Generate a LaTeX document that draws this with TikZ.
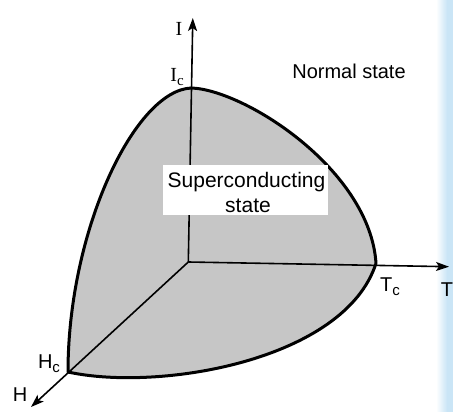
\documentclass[tikz,border=0pt]{standalone}
\usepackage{fontspec}
\setmainfont{Liberation Sans}
\newfontfamily\serifI{Liberation Serif}
\usetikzlibrary{arrows.meta}
\definecolor{fillgray}{RGB}{198,198,198}
\definecolor{blueband}{RGB}{202,229,246}
\tikzset{
  axis/.style={line width=1.6pt,-{Stealth[length=13pt,width=9pt,inset=3pt]}},
  bound/.style={line width=3pt,line join=round},
  lbl/.style={inner sep=0pt,font=\fontsize{20}{22}\selectfont}
}
\newcommand{\subc}{\raisebox{-0.4ex}{\fontsize{15}{15}\selectfont c}}
\begin{document}
\begin{tikzpicture}[x=1pt,y=-1pt]
\useasboundingbox (0,0) rectangle (453,412);
\fill[white] (0,0) rectangle (453,412);
\shade[left color=white,right color=blueband] (436,0) rectangle (447,412);
\fill[blueband] (447,0) rectangle (453,412);
% key points
\coordinate (O) at (188.3,262);
\coordinate (Ic) at (191.5,88);
\coordinate (Tc) at (376,263.3);
\coordinate (Hc) at (68,372);
\coordinate (Itip) at (192.8,18);
\coordinate (Ttip) at (449,266.7);
\coordinate (Htip) at (31,407);
% filled region
\fill[fillgray] (Ic) .. controls (245,90) and (370,170) .. (Tc)
  .. controls (345,360) and (160,392) .. (Hc)
  .. controls (68,230) and (135,90) .. (Ic) -- cycle;
% axes
\draw[axis] (O) -- (Itip);
\draw[axis] (O) -- (Ttip);
\draw[axis] (O) -- (Htip);
% boundary
\draw[bound] (Ic) .. controls (245,90) and (370,170) .. (Tc)
  .. controls (345,360) and (160,392) .. (Hc)
  .. controls (68,230) and (135,90) .. (Ic);
% label box
\fill[white] (163,165) rectangle (328,215);
\node[lbl,anchor=base,font=\fontsize{21}{24}\selectfont] (sc1) at (246.5,187) {Superconducting};
\node[lbl,anchor=base,font=\fontsize{21}{24}\selectfont] (sc2) at (248,212) {state};
% labels
\node[lbl] (lI) at (179,29) {\serifI I};
\node[lbl] (lIc) at (177,77) {\serifI I\subc};
\node[lbl] (ln) at (349,71) {Normal state};
\node[lbl] (lTc) at (390,287) {T\subc};
\node[lbl] (lT) at (447,290) {T};
\node[lbl] (lHc) at (49,364) {H\subc};
\node[lbl] (lH) at (20,395) {H};
\end{tikzpicture}
\end{document}
